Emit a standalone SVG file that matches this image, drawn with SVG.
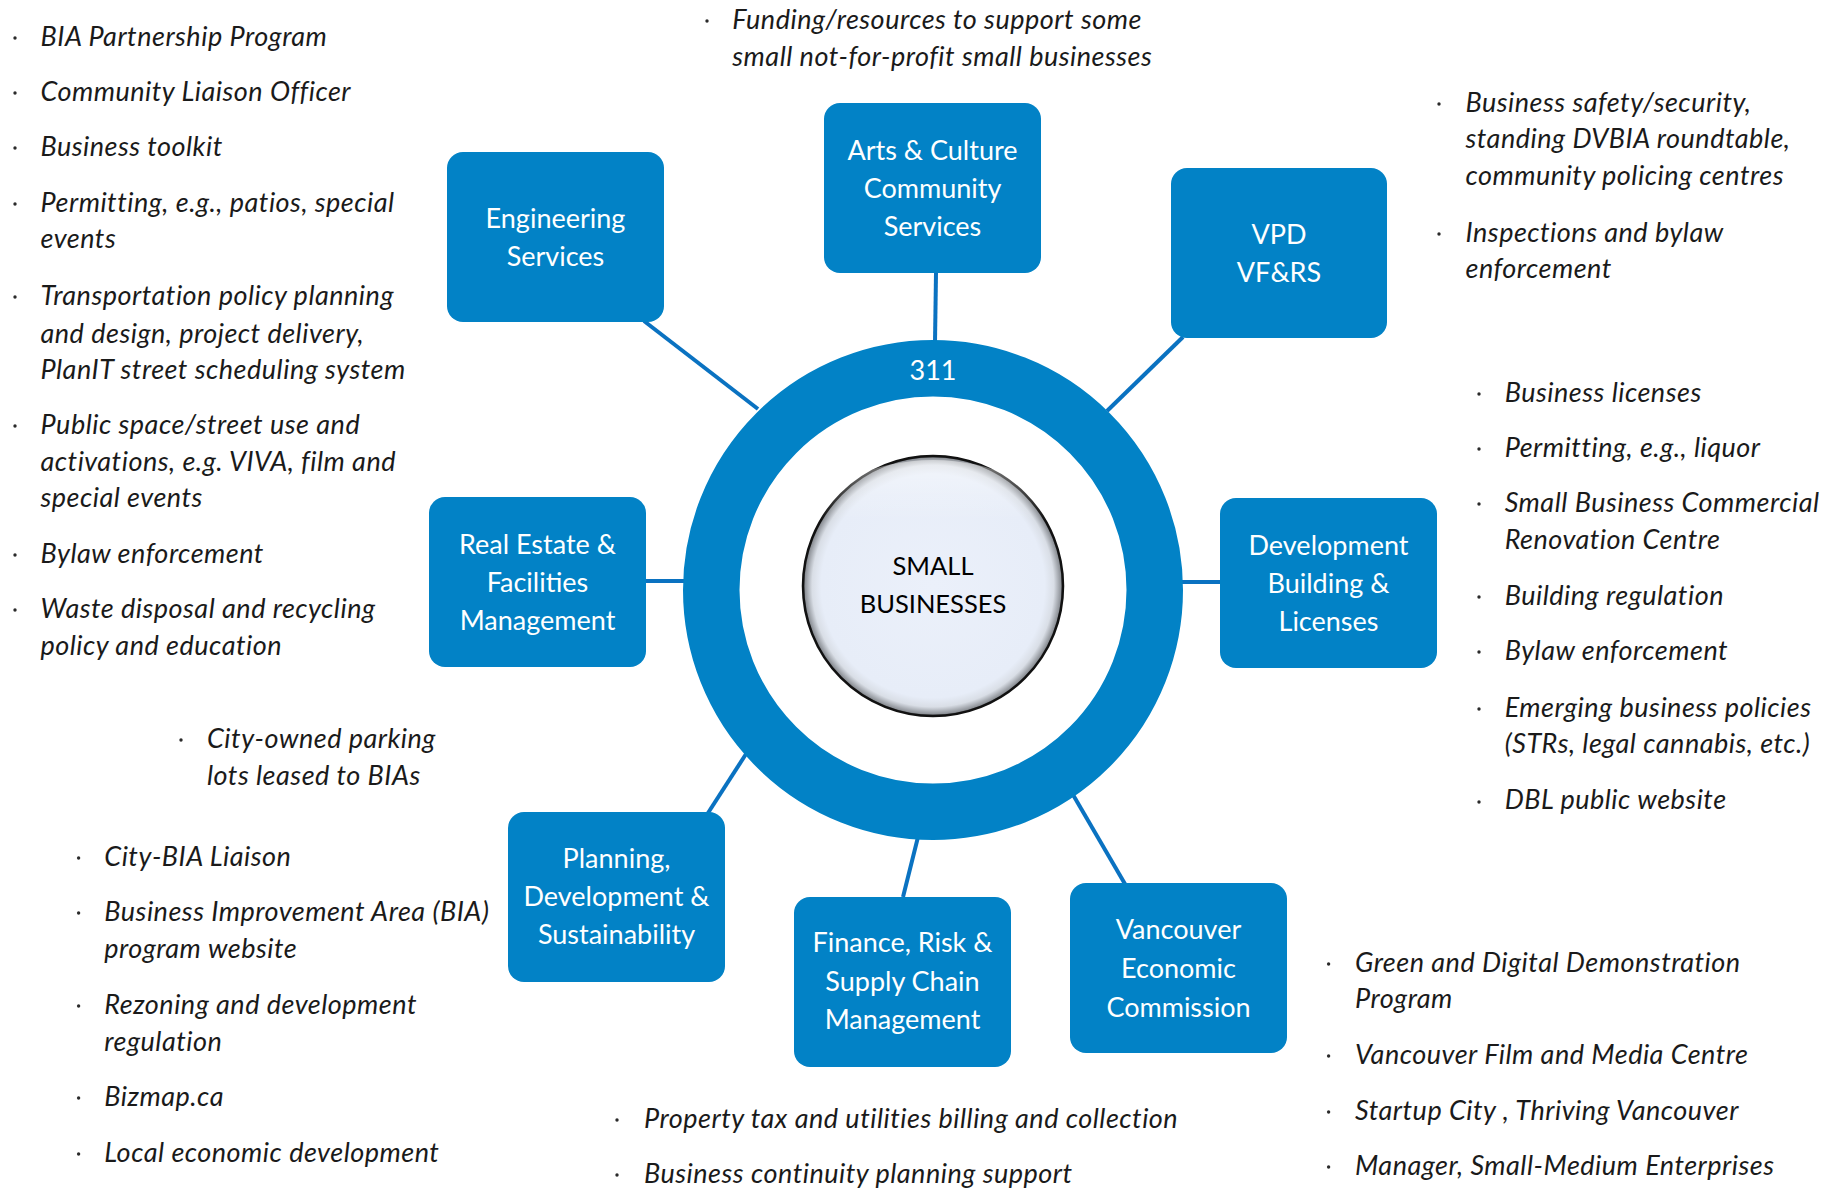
<svg xmlns="http://www.w3.org/2000/svg" width="1826" height="1189" viewBox="0 0 1826 1189">
  <style>
    .box { fill: #0282C6; }
    .lbl { font-family: Lato, "Liberation Sans", sans-serif; font-size: 27px; fill: #ffffff; text-anchor: middle; }
    .hub { font-family: Lato, "Liberation Sans", sans-serif; font-size: 25.5px; fill: #000000; text-anchor: middle; }
    .conn { stroke: #0A72C1; stroke-width: 4; fill: none; }
    .item { font-family: Lato, "Liberation Sans", sans-serif; font-style: italic; font-weight: 400; font-size: 27px; letter-spacing: 0.5px; fill: #1A1A1A; }
    .dot { fill: #2A2A2A; }
  </style>
  <defs>
    <radialGradient id="btnFill" cx="0.5" cy="0.5" r="0.5">
      <stop offset="0" stop-color="#EBF0FA"/>
      <stop offset="0.86" stop-color="#E7EDF8"/>
      <stop offset="0.93" stop-color="#D9DEE6"/>
      <stop offset="0.985" stop-color="#8E9298"/>
      <stop offset="1" stop-color="#3A3C40"/>
    </radialGradient>
    <linearGradient id="btnGloss" x1="0" y1="0" x2="0" y2="1">
      <stop offset="0" stop-color="#FFFFFF" stop-opacity="0.9"/>
      <stop offset="0.5" stop-color="#FFFFFF" stop-opacity="0"/>
    </linearGradient>
  </defs>

  <rect width="1826" height="1189" fill="#ffffff"/>

  <!-- spokes from the ring to each department -->
  <g id="connectors">
    <line class="conn" x1="644" y1="321" x2="758" y2="409"/>
    <line class="conn" x1="936" y1="273" x2="935" y2="342"/>
    <line class="conn" x1="1183" y1="337" x2="1107" y2="411"/>
    <line class="conn" x1="1180" y1="582" x2="1221" y2="582"/>
    <line class="conn" x1="645" y1="581" x2="686" y2="581"/>
    <line class="conn" x1="708" y1="813" x2="746" y2="754"/>
    <line class="conn" x1="918" y1="837" x2="903" y2="897"/>
    <line class="conn" x1="1072" y1="793" x2="1125" y2="884"/>
  </g>

  <!-- 311 ring and central hub -->
  <g id="ring311">
    <circle cx="933" cy="590" r="221.75" fill="none" stroke="#0282C6" stroke-width="56.5"/>
    <text class="lbl" x="933" y="380">311</text>
  </g>
  <g id="smallBusinesses">
    <circle cx="933" cy="586" r="130" fill="url(#btnFill)" stroke="#111111" stroke-width="2.5"/>
    <ellipse cx="933" cy="520" rx="112" ry="60" fill="url(#btnGloss)" opacity="0.5"/>
    <text class="hub" x="933" y="575">SMALL</text>
    <text class="hub" x="933" y="613">BUSINESSES</text>
  </g>

  <!-- department boxes -->
  <g id="engineering">
    <rect class="box" x="447" y="152" width="217" height="170" rx="16"/>
    <text class="lbl" x="555.5" y="228">Engineering</text>
    <text class="lbl" x="555.5" y="266">Services</text>
  </g>
  <g id="artsCulture">
    <rect class="box" x="824" y="103" width="217" height="170" rx="16"/>
    <text class="lbl" x="932.5" y="160">Arts &amp; Culture</text>
    <text class="lbl" x="932.5" y="198">Community</text>
    <text class="lbl" x="932.5" y="236">Services</text>
  </g>
  <g id="vpd">
    <rect class="box" x="1171" y="168" width="216" height="170" rx="16"/>
    <text class="lbl" x="1279" y="244">VPD</text>
    <text class="lbl" x="1279" y="282">VF&amp;RS</text>
  </g>
  <g id="developmentBuilding">
    <rect class="box" x="1220" y="498" width="217" height="170" rx="16"/>
    <text class="lbl" x="1328.5" y="555">Development</text>
    <text class="lbl" x="1328.5" y="593">Building &amp;</text>
    <text class="lbl" x="1328.5" y="631">Licenses</text>
  </g>
  <g id="realEstate">
    <rect class="box" x="429" y="497" width="217" height="170" rx="16"/>
    <text class="lbl" x="537.5" y="554">Real Estate &amp;</text>
    <text class="lbl" x="537.5" y="592">Facilities</text>
    <text class="lbl" x="537.5" y="630">Management</text>
  </g>
  <g id="planning">
    <rect class="box" x="508" y="812" width="217" height="170" rx="16"/>
    <text class="lbl" x="616.5" y="868">Planning,</text>
    <text class="lbl" x="616.5" y="906">Development &amp;</text>
    <text class="lbl" x="616.5" y="944">Sustainability</text>
  </g>
  <g id="finance">
    <rect class="box" x="794" y="897" width="217" height="170" rx="16"/>
    <text class="lbl" x="902.5" y="952">Finance, Risk &amp;</text>
    <text class="lbl" x="902.5" y="991">Supply Chain</text>
    <text class="lbl" x="902.5" y="1029">Management</text>
  </g>
  <g id="vancouverEconomic">
    <rect class="box" x="1070" y="883" width="217" height="170" rx="16"/>
    <text class="lbl" x="1178.5" y="939">Vancouver</text>
    <text class="lbl" x="1178.5" y="978">Economic</text>
    <text class="lbl" x="1178.5" y="1017">Commission</text>
  </g>

  <!-- service lists -->
  <g id="listEngineering">
    <circle class="dot" cx="15" cy="38" r="1.7"/>
    <text class="item" x="40.5" y="45.7">BIA Partnership Program</text>
    <circle class="dot" cx="15" cy="93" r="1.7"/>
    <text class="item" x="40.5" y="101">Community Liaison Officer</text>
    <circle class="dot" cx="15" cy="148" r="1.7"/>
    <text class="item" x="40.5" y="156">Business toolkit</text>
    <circle class="dot" cx="15" cy="204" r="1.7"/>
    <text class="item" x="40.5" y="212.3">Permitting, e.g., patios, special</text>
    <text class="item" x="40.5" y="248.3">events</text>
    <circle class="dot" cx="15" cy="297" r="1.7"/>
    <text class="item" x="40.5" y="305">Transportation policy planning</text>
    <text class="item" x="40.5" y="342.7">and design, project delivery,</text>
    <text class="item" x="40.5" y="379.3">PlanIT street scheduling system</text>
    <circle class="dot" cx="15" cy="426" r="1.7"/>
    <text class="item" x="40.5" y="434">Public space/street use and</text>
    <text class="item" x="40.5" y="471">activations, e.g. VIVA, film and</text>
    <text class="item" x="40.5" y="507.3">special events</text>
    <circle class="dot" cx="15" cy="555" r="1.7"/>
    <text class="item" x="40.5" y="563.3">Bylaw enforcement</text>
    <circle class="dot" cx="15" cy="610" r="1.7"/>
    <text class="item" x="40.5" y="618.3">Waste disposal and recycling</text>
    <text class="item" x="40.5" y="655">policy and education</text>
  </g>

  <g id="listArts">
    <circle class="dot" cx="707" cy="21" r="1.7"/>
    <text class="item" x="732.3" y="29.3">Funding/resources to support some</text>
    <text class="item" x="732.3" y="65.7">small not-for-profit small businesses</text>
  </g>

  <g id="listVpd">
    <circle class="dot" cx="1439" cy="104" r="1.7"/>
    <text class="item" x="1465.5" y="111.7">Business safety/security,</text>
    <text class="item" x="1465.5" y="148.3">standing DVBIA roundtable,</text>
    <text class="item" x="1465.5" y="185">community policing centres</text>
    <circle class="dot" cx="1439" cy="234" r="1.7"/>
    <text class="item" x="1465.5" y="241.7">Inspections and bylaw</text>
    <text class="item" x="1465.5" y="278.3">enforcement</text>
  </g>

  <g id="listDevelopment">
    <circle class="dot" cx="1479" cy="394" r="1.7"/>
    <text class="item" x="1504.7" y="401.7">Business licenses</text>
    <circle class="dot" cx="1479" cy="449" r="1.7"/>
    <text class="item" x="1504.7" y="456.7">Permitting, e.g., liquor</text>
    <circle class="dot" cx="1479" cy="504" r="1.7"/>
    <text class="item" x="1504.7" y="511.7">Small Business Commercial</text>
    <text class="item" x="1504.7" y="549">Renovation Centre</text>
    <circle class="dot" cx="1479" cy="597" r="1.7"/>
    <text class="item" x="1504.7" y="605">Building regulation</text>
    <circle class="dot" cx="1479" cy="652" r="1.7"/>
    <text class="item" x="1504.7" y="660">Bylaw enforcement</text>
    <circle class="dot" cx="1479" cy="709" r="1.7"/>
    <text class="item" x="1504.7" y="716.7">Emerging business policies</text>
    <text class="item" x="1504.7" y="753.3">(STRs, legal cannabis, etc.)</text>
    <circle class="dot" cx="1479" cy="802" r="1.7"/>
    <text class="item" x="1504.7" y="809.3">DBL public website</text>
  </g>

  <g id="listRealEstate">
    <circle class="dot" cx="181" cy="740" r="1.7"/>
    <text class="item" x="207" y="748.3">City-owned parking</text>
    <text class="item" x="207" y="785">lots leased to BIAs</text>
  </g>

  <g id="listPlanning">
    <circle class="dot" cx="78.6" cy="858" r="1.7"/>
    <text class="item" x="104.3" y="866">City-BIA Liaison</text>
    <circle class="dot" cx="78.6" cy="913" r="1.7"/>
    <text class="item" x="104.3" y="921">Business Improvement Area (BIA)</text>
    <text class="item" x="104.3" y="957.7">program website</text>
    <circle class="dot" cx="78.6" cy="1006" r="1.7"/>
    <text class="item" x="104.3" y="1014.3">Rezoning and development</text>
    <text class="item" x="104.3" y="1051">regulation</text>
    <circle class="dot" cx="78.6" cy="1098" r="1.7"/>
    <text class="item" x="104.3" y="1106">Bizmap.ca</text>
    <circle class="dot" cx="78.6" cy="1154" r="1.7"/>
    <text class="item" x="104.3" y="1162.3">Local economic development</text>
  </g>

  <g id="listFinance">
    <circle class="dot" cx="617" cy="1120" r="1.7"/>
    <text class="item" x="644" y="1128.3">Property tax and utilities billing and collection</text>
    <circle class="dot" cx="617" cy="1175" r="1.7"/>
    <text class="item" x="644" y="1183.3">Business continuity planning support</text>
  </g>

  <g id="listVancouverEconomic">
    <circle class="dot" cx="1328.6" cy="964" r="1.7"/>
    <text class="item" x="1355" y="971.7">Green and Digital Demonstration</text>
    <text class="item" x="1355" y="1008.3">Program</text>
    <circle class="dot" cx="1328.6" cy="1056" r="1.7"/>
    <text class="item" x="1355" y="1064">Vancouver Film and Media Centre</text>
    <circle class="dot" cx="1328.6" cy="1112" r="1.7"/>
    <text class="item" x="1355" y="1120">Startup City , Thriving Vancouver</text>
    <circle class="dot" cx="1328.6" cy="1167" r="1.7"/>
    <text class="item" x="1355" y="1175">Manager, Small-Medium Enterprises</text>
  </g>
</svg>
